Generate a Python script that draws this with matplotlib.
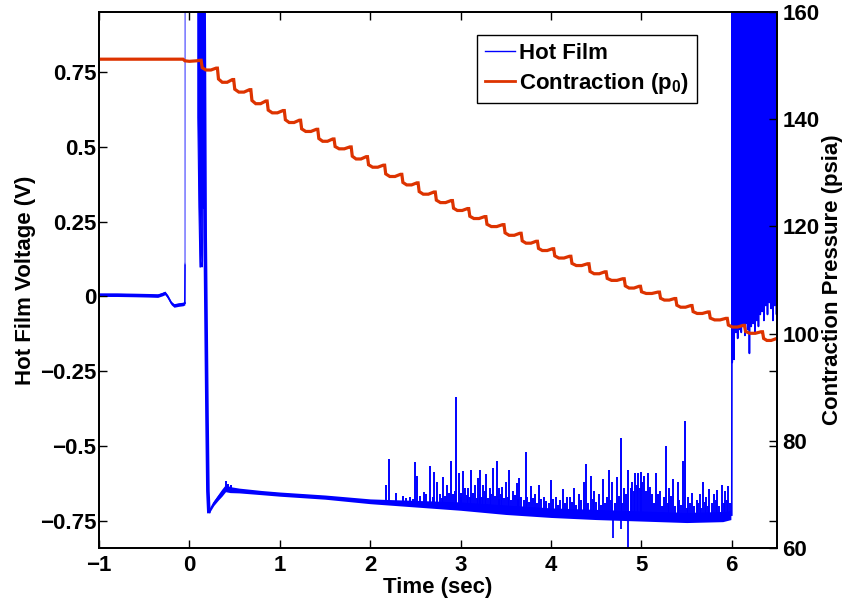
import numpy as np
import matplotlib
matplotlib.use("Agg")
import matplotlib.pyplot as plt
from matplotlib.lines import Line2D

plt.rcParams['font.family'] = ['Liberation Sans', 'DejaVu Sans']
plt.rcParams['font.weight'] = 'bold'
plt.rcParams['mathtext.fontset'] = 'custom'
plt.rcParams['mathtext.rm'] = 'Liberation Sans:bold'
plt.rcParams['mathtext.bf'] = 'Liberation Sans:bold'
plt.rcParams['mathtext.default'] = 'bf'

# ---------------- data ----------------
# Hot film: quiet pre-event baseline (time s, volts)
pre_t = [-1.0, -0.8, -0.6, -0.45, -0.35, -0.30, -0.27, -0.24, -0.20, -0.17, -0.12, -0.07, -0.05]
pre_v = [0.006, 0.006, 0.005, 0.004, 0.003, 0.008, 0.012, 0.000, -0.022, -0.030, -0.027, -0.025, -0.022]

# Hot film: jump off scale at start-up
jump_t = [-0.05, -0.048, -0.046]
jump_v = [-0.022, 0.11, 1.5]
# Hot film: saturated burst (band from low edge to top) then fall to the minimum
burst_band_t = [0.088, 0.100, 0.112, 0.118, 0.124, 0.134, 0.140, 0.146]
burst_band_lo = [0.60, 0.30, 0.10, 0.10, 0.28, 0.10, 0.12, 0.40]
fall_t = [0.146, 0.150, 0.155, 0.175, 0.195, 0.205, 0.215]
fall_v = [1.5, 0.30, 1.5, 0.20, -0.40, -0.65, -0.718]

# Hot film: post-start baseline with noise half-width
base_t = [0.215, 0.23, 0.27, 0.32, 0.36, 0.40, 0.45, 0.55, 0.8, 1.0, 1.5, 2.0, 2.5, 3.0, 3.5,
          4.0, 4.5, 5.0, 5.5, 5.9, 5.99]
base_v = [-0.718, -0.712, -0.690, -0.670, -0.655, -0.640, -0.645, -0.648, -0.655, -0.660, -0.670,
          -0.684, -0.692, -0.700, -0.712, -0.722, -0.728, -0.733, -0.738, -0.735, -0.730]
base_hw = [0.006, 0.006, 0.008, 0.010, 0.012, 0.012, 0.010, 0.008, 0.007, 0.007, 0.007, 0.008,
           0.011, 0.014, 0.016, 0.016, 0.017, 0.017, 0.017, 0.017, 0.015]

# Hot film: tall upward spikes (time, peak volts)
spike_t = [0.41, 0.43, 0.46, 2.17, 2.21, 2.29, 2.36, 2.50, 2.52, 2.59, 2.66, 2.71, 2.74, 2.81,
           2.85, 2.89, 2.95, 2.98, 3.03, 3.05, 3.08, 3.12, 3.16, 3.19, 3.22, 3.25, 3.28, 3.32,
           3.36, 3.40, 3.43, 3.46, 3.50, 3.54, 3.58, 3.62, 3.65, 3.72, 3.78, 3.82, 3.87, 3.92,
           4.00, 4.05, 4.13, 4.18, 4.25, 4.31, 4.36, 4.39, 4.44, 4.48, 4.53, 4.58, 4.64, 4.68,
           4.73, 4.77, 4.81, 4.85, 4.90, 4.93, 4.96, 5.00, 5.03, 5.07, 5.12, 5.16, 5.21, 5.27,
           5.31, 5.35, 5.40, 5.46, 5.48, 5.52, 5.56, 5.61, 5.65, 5.68, 5.72, 5.75, 5.80, 5.84,
           5.89, 5.93, 5.96]
spike_v = [-0.615, -0.625, -0.630, -0.631, -0.544, -0.656, -0.665, -0.553, -0.600, -0.654, -0.567,
           -0.586, -0.620, -0.602, -0.630, -0.548, -0.336, -0.589, -0.583, -0.640, -0.639, -0.578,
           -0.630, -0.606, -0.578, -0.630, -0.592, -0.640, -0.574, -0.550, -0.640, -0.637, -0.620,
           -0.578, -0.650, -0.622, -0.606, -0.520, -0.634, -0.660, -0.628, -0.670, -0.614, -0.670,
           -0.644, -0.670, -0.640, -0.660, -0.620, -0.561, -0.598, -0.650, -0.660, -0.610, -0.581,
           -0.620, -0.603, -0.472, -0.640, -0.580, -0.620, -0.590, -0.590, -0.585, -0.600, -0.590,
           -0.660, -0.590, -0.650, -0.500, -0.640, -0.610, -0.620, -0.550, -0.416, -0.670, -0.657,
           -0.680, -0.660, -0.620, -0.670, -0.643, -0.660, -0.645, -0.630, -0.650, -0.633]

# Hot film: small noise spikes (time, peak volts)
small_t = [2.40, 2.44, 2.47, 2.55, 2.62, 2.69, 2.77, 2.79, 2.83, 2.87, 2.92, 2.94, 3.00, 3.01,
           3.07, 3.10, 3.14, 3.18, 3.21, 3.24, 3.27, 3.30, 3.34, 3.38, 3.42, 3.45, 3.48, 3.52,
           3.56, 3.60, 3.63, 3.67, 3.70, 3.74, 3.76, 3.80, 3.84, 3.89, 3.95, 3.98, 4.02, 4.08,
           4.10, 4.15, 4.21, 4.23, 4.28, 4.33, 4.41, 4.46, 4.50, 4.55, 4.60, 4.62, 4.66, 4.71,
           4.75, 4.79, 4.83, 4.88, 4.92, 4.95, 4.98, 5.01, 5.05, 5.09, 5.14, 5.18, 5.23, 5.25,
           5.29, 5.33, 5.37, 5.42, 5.44, 5.50, 5.54, 5.58, 5.63, 5.66, 5.70, 5.74, 5.78, 5.82,
           5.86, 5.91, 5.95, 5.98]
small_v = [-0.672, -0.668, -0.675, -0.665, -0.660, -0.668, -0.660, -0.672, -0.665, -0.655, -0.660,
           -0.650, -0.668, -0.655, -0.662, -0.670, -0.655, -0.672, -0.660, -0.668, -0.650, -0.672,
           -0.660, -0.665, -0.675, -0.660, -0.672, -0.668, -0.680, -0.662, -0.675, -0.668, -0.680,
           -0.670, -0.685, -0.672, -0.690, -0.675, -0.682, -0.690, -0.675, -0.695, -0.680, -0.690,
           -0.670, -0.688, -0.695, -0.680, -0.690, -0.675, -0.685, -0.695, -0.690, -0.670, -0.680,
           -0.690, -0.665, -0.690, -0.660, -0.640, -0.650, -0.630, -0.640, -0.620, -0.650, -0.635,
           -0.690, -0.660, -0.700, -0.670, -0.690, -0.665, -0.700, -0.680, -0.695, -0.705, -0.690,
           -0.700, -0.690, -0.705, -0.685, -0.700, -0.690, -0.680, -0.700, -0.690, -0.680, -0.690]

# Hot film: downward spikes (time, low volts)
dip_t = [4.69, 4.77, 4.855]
dip_v = [-0.807, -0.777, -0.95]

# Hot film: oscillation after t = 6 s (lows and highs)
osc_t = [6.000, 6.005, 6.015, 6.025, 6.035, 6.045, 6.055, 6.065, 6.075, 6.085, 6.095, 6.105,
         6.115, 6.125, 6.135, 6.145, 6.155, 6.165, 6.175, 6.185, 6.195, 6.205, 6.215, 6.225,
         6.235, 6.245, 6.255, 6.265, 6.275, 6.285, 6.295, 6.305, 6.315, 6.325, 6.335, 6.345,
         6.355, 6.365, 6.375, 6.385, 6.395, 6.405, 6.415, 6.425, 6.435, 6.445, 6.455, 6.465,
         6.475, 6.485, 6.495]
osc_low = [-0.73, -0.22, -0.15, -0.21, -0.10, -0.12, -0.08, -0.14, -0.09, -0.11, -0.07, -0.12,
           -0.08, -0.10, -0.06, -0.13, -0.09, -0.05, -0.11, -0.07, -0.19, -0.06, -0.10, -0.04,
           -0.09, -0.05, -0.12, -0.03, -0.08, -0.04, -0.10, -0.02, -0.06, 0.03, -0.05, 0.02,
           -0.08, 0.04, -0.03, 0.05, -0.06, 0.03, -0.02, 0.06, -0.04, 0.02, -0.08, 0.04,
           -0.03, 0.05, -0.06]
osc_high = [1.5, 1.5, 0.88, 1.5, 0.86, 1.5, 0.90, 1.5, 0.87, 1.5, 1.5, 1.5,
            1.5, 1.5, 1.5, 1.5, 1.5, 1.5, 1.5, 1.5, 1.5, 1.5, 1.5, 1.5,
            1.5, 1.5, 1.5, 1.5, 1.5, 1.5, 1.5, 1.5, 1.5, 1.5, 1.5, 1.5,
            1.5, 1.5, 1.5, 1.5, 1.5, 1.5, 1.5, 1.5, 1.5, 1.5, 1.5, 1.5,
            1.5, 1.5, 1.5]

# Contraction pressure (psia): level before the staircase, then step times and levels
p_pre_t = [-1.0, -0.07, -0.05, 0.0, 0.08, 0.12]
p_pre = [151.2, 151.2, 150.9, 150.8, 150.9, 151.0]
step_t = [0.13, 0.31, 0.49, 0.68, 0.86, 1.05, 1.23, 1.42, 1.60, 1.79, 1.97, 2.16, 2.35, 2.53,
          2.72, 2.91, 3.09, 3.28, 3.48, 3.67, 3.85, 4.03, 4.22, 4.42, 4.61, 4.81, 4.99, 5.20,
          5.38, 5.56, 5.75, 5.95, 6.14, 6.34]
step_p = [149.6, 147.5, 145.6, 143.5, 141.7, 139.9, 138.2, 136.4, 134.9, 133.1, 131.5, 129.8,
          128.2, 126.5, 124.9, 123.4, 121.9, 120.4, 118.8, 117.3, 115.9, 114.5, 113.1, 111.6,
          110.3, 108.9, 107.8, 106.6, 105.3, 104.1, 102.9, 101.6, 100.4, 99.1]

xticks = [-1, 0, 1, 2, 3, 4, 5, 6]
yticks_left = [-0.75, -0.5, -0.25, 0, 0.25, 0.5, 0.75]
ytick_left_labels = ['\u22120.75', '\u22120.5', '\u22120.25', '0', '0.25', '0.5', '0.75']
yticks_right = [60, 80, 100, 120, 140, 160]

BLUE = '#0000ff'
RED = '#dd3300'

# ---------------- figure ----------------
fig = plt.figure(figsize=(8.43, 6.04), dpi=100)
ax = fig.add_axes([0.1174, 0.0927, 0.8043, 0.8874])
ax2 = ax.twinx()

# pre-event baseline
pt = np.array(pre_t); pv = np.array(pre_v)
ax.fill_between(pt, pv - 0.006, pv + 0.006, color=BLUE, lw=0)
ax.plot(pt, pv, color=BLUE, lw=1.2)
# jump
ax.plot(jump_t[:2], jump_v[:2], color=BLUE, lw=1.2)
ax.plot(jump_t[1:], jump_v[1:], color='#7f7fff', lw=1.2)
# burst band and fall
ax.fill_between(burst_band_t, burst_band_lo, 1.5, color=BLUE, lw=0.8, edgecolor=BLUE)
ax.plot(fall_t, fall_v, color=BLUE, lw=2.6)
# post-start baseline band
bt = np.array(base_t); bv = np.array(base_v); bh = np.array(base_hw)
ax.fill_between(bt, bv - bh, bv + bh, color=BLUE, lw=0)
ax.plot(bt, bv, color=BLUE, lw=1.2)
# spikes
st = np.array(spike_t)
ax.vlines(st, np.interp(st, bt, bv), spike_v, color=BLUE, lw=1.4)
sm = np.array(small_t)
ax.vlines(sm, np.interp(sm, bt, bv), small_v, color=BLUE, lw=1.4)
dt = np.array(dip_t)
ax.vlines(dt, np.interp(dt, bt, bv), dip_v, color=BLUE, lw=1.3)
# oscillation after 6 s
ot, ov = [], []
for t, lo, hi in zip(osc_t, osc_low, osc_high):
    ot += [t, t + 0.005]
    ov += [lo, hi]
ax.plot(ot, ov, color=BLUE, lw=1.2)

# contraction pressure staircase
rt = list(p_pre_t); rp = list(p_pre)
for k, (ts, lv) in enumerate(zip(step_t, step_p)):
    t_next = step_t[k + 1] if k + 1 < len(step_t) else 6.5
    d = t_next - ts
    prev = rp[-1]
    drop = prev - lv
    rt += [ts, ts + 0.012, ts + 0.3 * d, ts + 0.6 * d, ts + 0.92 * d]
    rp += [prev, lv, lv - 0.3 * drop, lv - 0.3 * drop, lv - 0.05 * drop]
ax2.plot(rt, rp, color=RED, lw=2.3, solid_joinstyle='miter')

# axes formatting
ax.set_xlim(-1, 6.5)
ax.set_ylim(-0.84, 0.95)
ax2.set_ylim(60, 160)
ax.set_xticks(xticks)
ax.set_xticklabels(['\u22121' if x < 0 else str(x) for x in xticks])
ax.set_yticks(yticks_left)
ax.set_yticklabels(ytick_left_labels)
ax2.set_yticks(yticks_right)
ax2.set_yticklabels([str(v) for v in yticks_right])

fs = 16
ax.tick_params(axis='both', direction='in', length=6, width=1, labelsize=fs,
               top=True, right=True, labelright=False)
ax.tick_params(axis='y', pad=2)
ax.tick_params(axis='x', pad=5)
ax2.tick_params(axis='y', direction='in', length=6, width=1, labelsize=fs, pad=4)
for a in (ax, ax2):
    for s in a.spines.values():
        s.set_linewidth(1.3)
    for lab in a.get_xticklabels() + a.get_yticklabels():
        lab.set_fontweight('bold')

ax.set_xlabel('Time (sec)', fontsize=fs, fontweight='bold', labelpad=0.5)
ax.set_ylabel('Hot Film Voltage (V)', fontsize=fs, fontweight='bold', labelpad=3)
ax2.set_ylabel('Contraction Pressure (psia)', fontsize=fs, fontweight='bold', labelpad=2)

handles = [Line2D([], [], color=BLUE, lw=1.0), Line2D([], [], color=RED, lw=2.0)]
leg = ax2.legend(handles, ['Hot Film', 'Contraction (p$_{0}$)'],
                 loc='upper right', bbox_to_anchor=(0.882, 0.957),
                 prop={'weight': 'bold', 'size': fs}, frameon=True, fancybox=False,
                 edgecolor='black', framealpha=1, handlelength=1.35, handletextpad=0.2,
                 labelspacing=0.3, borderpad=0.35, borderaxespad=0)
leg.get_frame().set_linewidth(1.0)

fig.savefig('out.png', dpi=100)
